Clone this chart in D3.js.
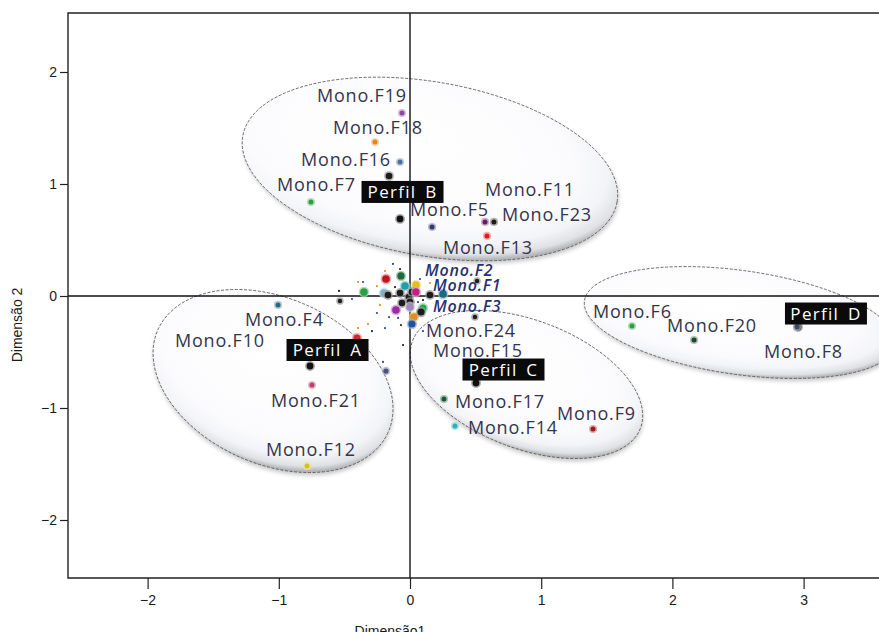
<!DOCTYPE html>
<html><head><meta charset="utf-8">
<script src="https://cdn.jsdelivr.net/npm/d3@7"></script>
<style>
html,body{margin:0;padding:0;background:#fff;}
svg{display:block;}
</style></head><body>
<svg id="chart" width="879" height="632"></svg>
<script>
// ---- Profile centroids (Dimensão 1, Dimensão 2) ----
const profileNames = ["Perfil A", "Perfil B", "Perfil C", "Perfil D"];
const profileDim1 = [-0.762, -0.076, 0.503, 2.957];
const profileDim2 = [-0.625, 0.688, -0.777, -0.277];

// ---- Labelled categories ----
const monoNames = ["Mono.F1","Mono.F2","Mono.F3","Mono.F4","Mono.F5","Mono.F6","Mono.F7","Mono.F8",
  "Mono.F9","Mono.F10","Mono.F11","Mono.F12","Mono.F13","Mono.F14","Mono.F15","Mono.F16",
  "Mono.F17","Mono.F18","Mono.F19","Mono.F20","Mono.F21","Mono.F23","Mono.F24"];
const monoDim1 = [0.046,-0.069,0.099,-1.006,0.168,1.692,-0.755,2.950,
  1.395,-0.404,0.572,-0.785,0.587,0.343,0.084,-0.076,
  0.259,-0.267,-0.061,2.165,-0.747,0.640,0.015];
const monoDim2 = [0.036,0.179,-0.107,-0.080,0.616,-0.268,0.839,-0.275,
  -1.188,-0.375,0.661,-1.518,0.536,-1.161,-0.143,1.196,
  -0.920,1.375,1.634,-0.393,-0.795,0.661,-0.250];
const monoColors = ["#c0208a","#1a6a3a","#22a844","#2a6a80","#353a6a","#2aa040","#2aa040","#3a4a6a",
  "#a01a1a","#d02a2a","#6a1a6a","#d8c020","#e01a1a","#30b0b0","#1c1c1c","#4a70a0",
  "#1a5a3a","#e08a1a","#8a4aa0","#1a4a2a","#c03a6a","#1c1c1c","#2050a0"];

// ---- Other (unlabelled) categories ----
const otherDim1 = [-0.183,-0.038,0.046,-0.351,-0.198,-0.168,-0.076,-0.008,0.015,0.152,
  0.252,-0.534,-0.061,0.000,-0.107,0.000,0.030,0.495,0.511,-0.183,-0.160];
const otherDim2 = [0.152,0.089,0.098,0.036,0.027,0.009,0.027,-0.009,0.036,0.009,
  0.018,-0.045,-0.063,-0.054,-0.125,-0.098,-0.188,-0.188,0.134,-0.670,1.071];
const otherColors = ["#c0141e","#1aa0a8","#e0c020","#2aa040","#7ab0d0","#1c1c1c","#1c1c1c","#1c1c1c","#1c1c1c","#1c1c1c",
  "#1a6a80","#1c1c1c","#1c1c1c","#1c1c1c","#9a2aa0","#a08ab8","#e0901a","#1c1c1c","#1c1c1c","#4a5080","#1c1c1c"];

// ---- Supplementary modalities (small marks) ----
const minorDim1 = [-0.130,-0.076,-0.191,-0.358,-0.252,0.076,-0.114,-0.213,-0.229,-0.160,
  -0.069,-0.191,-0.320,0.061,-0.541,-0.396,-0.252,-0.053,-0.206,-0.396,-0.091,0.099,0.099,0.152,-0.442,-0.290];
const minorDim2 = [0.286,0.241,0.223,0.125,0.089,0.152,0.080,0.027,-0.080,-0.188,
  -0.259,-0.286,-0.250,-0.054,0.045,0.125,-0.152,-0.438,-0.589,-0.286,-0.196,-0.036,-0.313,0.116,-0.027,-0.313];
const minorColors = ["#2a4a9a","#1c1c1c","#e09020","#2a4a9a","#e09020","#2a4a9a","#1c1c1c","#2a4a9a","#e09020","#2a4a9a",
  "#1c1c1c","#2a4a9a","#e09020","#2a4a9a","#1c1c1c","#e09020","#2a4a9a","#1c1c1c","#2a4a9a","#e09020","#2a4a9a","#1c1c1c","#2a4a9a","#e09020","#2a4a9a","#1c1c1c"];

// ---- Profile ellipse centres (data units) ----
const ellipseDim1 = [-1.044, 0.152, 0.888, 2.515];
const ellipseDim2 = [-0.759, 1.134, -0.790, -0.237];

// ---- Axis ticks ----
const xTicks = [-2, -1, 0, 1, 2, 3];
const yTicks = [-2, -1, 0, 1, 2];

// ---- Layout ----
const ellipseShape = [ // semi-axes in px, rotation in degrees
  {rx: 126, ry: 83, rot: 24},
  {rx: 190, ry: 87, rot: 10},
  {rx: 122, ry: 64, rot: 21},
  {rx: 157, ry: 52, rot: 8}
];
const labelOffset = {
  "Mono.F1": [17,-1], "Mono.F2": [24,0], "Mono.F3": [10,4], "Mono.F4": [-33,21],
  "Mono.F5": [-22,-11], "Mono.F6": [-39,-8], "Mono.F7": [-34,-11], "Mono.F8": [-33,31],
  "Mono.F9": [-36,-9], "Mono.F10": [-182,9], "Mono.F11": [0,-26], "Mono.F12": [-41,-10],
  "Mono.F13": [-44,18], "Mono.F14": [13,8], "Mono.F15": [12,45], "Mono.F16": [-99,4],
  "Mono.F17": [11,9], "Mono.F18": [-42,-8], "Mono.F19": [-85,-11], "Mono.F20": [-27,-8],
  "Mono.F21": [-41,22], "Mono.F23": [8,-1], "Mono.F24": [14,13]
};
const italicLabels = new Set(["Mono.F1","Mono.F2","Mono.F3"]);
const clusterPoints = new Set(["Mono.F1","Mono.F2","Mono.F3","Mono.F10","Mono.F15","Mono.F24"]);
const profileBoxOffset = [[17.5,-16],[2.5,-27],[27.5,-13.5],[28,-13.5]];

const plot = {left: 68, top: 13, right: 890, bottom: 578};

const x = d3.scaleLinear().domain([(plot.left - 410) / 131.2, (plot.right - 410) / 131.2]).range([plot.left, plot.right]);
const y = d3.scaleLinear().domain([(296 - plot.bottom) / 112, (296 - plot.top) / 112]).range([plot.bottom, plot.top]);

const svg = d3.select("#chart");
const defs = svg.append("defs");

const grad = defs.append("radialGradient").attr("id", "bubble")
  .attr("cx", 0.44).attr("cy", 0.41).attr("r", 0.60).attr("fx", 0.40).attr("fy", 0.34);
[[0, "#ffffff"], [0.74, "#fbfbfd"], [0.88, "#f3f4f7"], [0.96, "#e0e1e5"], [1, "#b4b5b9"]]
  .forEach(([o, c]) => grad.append("stop").attr("offset", o).attr("stop-color", c));

const shadow = defs.append("filter").attr("id", "soft").attr("x", "-20%").attr("y", "-20%").attr("width", "140%").attr("height", "140%");
shadow.append("feGaussianBlur").attr("stdDeviation", 2.2);

defs.append("clipPath").attr("id", "plotClip").append("rect")
  .attr("x", plot.left).attr("y", plot.top).attr("width", plot.right - plot.left).attr("height", plot.bottom - plot.top);

const g = svg.append("g").attr("clip-path", "url(#plotClip)");

// profile ellipses
const ell = g.selectAll("g.ellipse").data(profileNames).join("g")
  .attr("class", "ellipse")
  .attr("transform", (d, i) => `translate(${x(ellipseDim1[i])},${y(ellipseDim2[i])}) rotate(${ellipseShape[i].rot})`);
ell.append("ellipse").attr("cx", 1.5).attr("cy", 2.5)
  .attr("rx", (d, i) => ellipseShape[i].rx).attr("ry", (d, i) => ellipseShape[i].ry)
  .attr("fill", "#000").attr("opacity", 0.22).attr("filter", "url(#soft)");
ell.append("ellipse")
  .attr("rx", (d, i) => ellipseShape[i].rx).attr("ry", (d, i) => ellipseShape[i].ry)
  .attr("fill", "url(#bubble)")
  .attr("stroke", "#555").attr("stroke-width", 0.8).attr("stroke-dasharray", "3,1.6");

// reference lines through the origin
g.append("line").attr("x1", plot.left).attr("x2", plot.right).attr("y1", y(0)).attr("y2", y(0))
  .attr("stroke", "#111").attr("stroke-width", 1.4);
g.append("line").attr("x1", x(0)).attr("x2", x(0)).attr("y1", plot.top).attr("y2", plot.bottom)
  .attr("stroke", "#111").attr("stroke-width", 1.4);

function dot(sel, cx, cy, r, color) {
  sel.append("circle").attr("cx", cx).attr("cy", cy).attr("r", r + 1.6)
    .attr("fill", d3.interpolateRgb(color, "#ffffff")(0.55)).attr("opacity", 0.75);
  sel.append("circle").attr("cx", cx).attr("cy", cy).attr("r", r).attr("fill", color);
}

// supplementary small marks
g.selectAll("circle.minor").data(minorDim1).join("circle").attr("class", "minor")
  .attr("cx", (d) => x(d)).attr("cy", (d, i) => y(minorDim2[i])).attr("r", 1.1)
  .attr("fill", (d, i) => minorColors[i]);

// unlabelled categories
otherDim1.forEach((d, i) => {
  const big = Math.abs(d) < 0.6 && Math.abs(otherDim2[i]) < 0.3 && otherColors[i] !== "#1c1c1c";
  const r = otherColors[i] === "#1c1c1c" ? (Math.abs(d) > 0.45 ? 2.2 : 3.3) : (big ? 3.8 : 2.6);
  dot(g, x(d), y(otherDim2[i]), r, otherColors[i]);
});

// profile centroids
profileNames.forEach((p, i) => dot(g, x(profileDim1[i]), y(profileDim2[i]), 3.4, "#111"));

// labelled categories
monoNames.forEach((n, i) => dot(g, x(monoDim1[i]), y(monoDim2[i]), clusterPoints.has(n) ? 3.6 : 2.5, monoColors[i]));

// category labels
g.selectAll("text.mono").data(monoNames).join("text").attr("class", "mono")
  .attr("x", (d, i) => x(monoDim1[i]) + labelOffset[d][0])
  .attr("y", (d, i) => y(monoDim2[i]) + labelOffset[d][1])
  .attr("font-family", "'Open Sans', sans-serif")
  .attr("font-size", (d) => italicLabels.has(d) ? 16 : 18)
  .attr("font-style", (d) => italicLabels.has(d) ? "italic" : "normal")
  .attr("font-weight", (d) => italicLabels.has(d) ? 600 : 400)
  .attr("letter-spacing", 0.8)
  .attr("fill", (d) => italicLabels.has(d) ? "#283070" : "#34344c")
  .text((d) => d);

// profile tags
const tag = g.selectAll("g.tag").data(profileNames).join("g").attr("class", "tag")
  .attr("transform", (d, i) => `translate(${x(profileDim1[i]) + profileBoxOffset[i][0]},${y(profileDim2[i]) + profileBoxOffset[i][1]})`);
tag.append("rect").attr("x", -41).attr("y", -11).attr("width", 82).attr("height", 22).attr("fill", "#0a0a0a");
tag.append("text").attr("text-anchor", "middle").attr("y", 6)
  .attr("font-family", "'Open Sans', sans-serif").attr("font-size", 17)
  .attr("letter-spacing", 1.3).attr("word-spacing", 3)
  .attr("fill", "#ffffff").text((d) => d);

// frame
svg.append("path")
  .attr("d", `M${plot.right},${plot.top}H${plot.left}V${plot.bottom}H${plot.right}`)
  .attr("fill", "none").attr("stroke", "#222").attr("stroke-width", 1.4);

// axes
const xAxis = svg.append("g").attr("transform", `translate(0,${plot.bottom})`)
  .call(d3.axisBottom(x).tickValues(xTicks).tickSize(11).tickPadding(6).tickFormat(d3.format("d")));
const yAxis = svg.append("g").attr("transform", `translate(${plot.left},0)`)
  .call(d3.axisLeft(y).tickValues(yTicks).tickSize(8).tickPadding(3).tickFormat(d3.format("d")));
[xAxis, yAxis].forEach((a) => {
  a.select(".domain").remove();
  a.selectAll(".tick line").attr("stroke", "#222").attr("stroke-width", 1.2);
  a.selectAll(".tick text").attr("font-family", "'Liberation Sans', Arial, sans-serif")
    .attr("font-size", 14).attr("fill", "#1a1a1a");
});

svg.append("text").attr("x", 390).attr("y", 636).attr("text-anchor", "middle")
  .attr("font-family", "'Liberation Sans', Arial, sans-serif").attr("font-size", 14).attr("fill", "#1a1a1a")
  .text("Dimensão1");
svg.append("text").attr("transform", "translate(22,325) rotate(-90)").attr("text-anchor", "middle")
  .attr("font-family", "'Liberation Sans', Arial, sans-serif").attr("font-size", 14).attr("fill", "#1a1a1a")
  .text("Dimensão 2");
</script>
</body></html>
